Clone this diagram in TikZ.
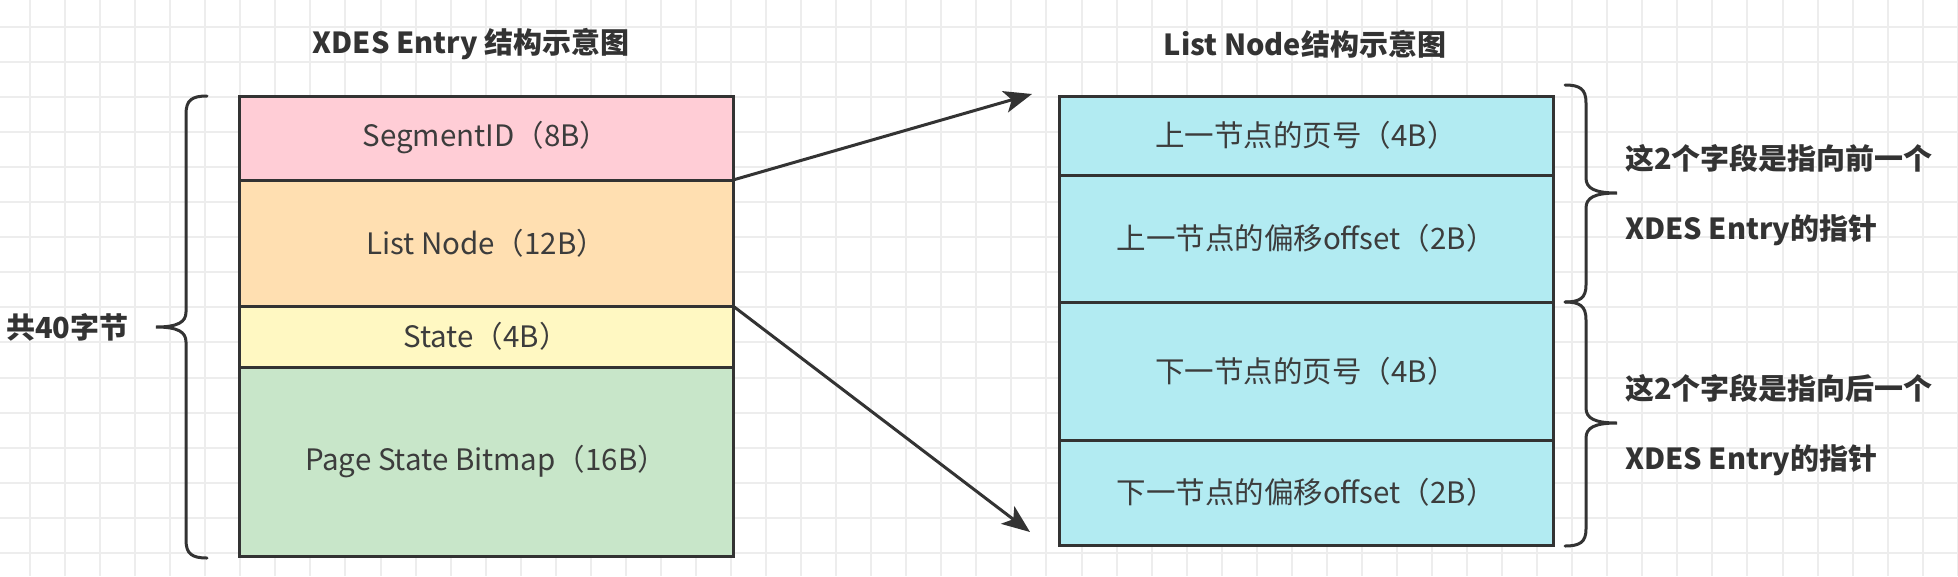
\documentclass[tikz,border=0pt]{standalone}
\usepackage{fontspec}
\setmainfont{Noto Sans CJK SC}
\usetikzlibrary{arrows.meta}
\definecolor{gridc}{HTML}{EDEDED}
\definecolor{linec}{HTML}{333333}
\definecolor{textc}{HTML}{3C3C3C}
\definecolor{segc}{HTML}{FFCDD6}
\definecolor{listc}{HTML}{FFDFB1}
\definecolor{statec}{HTML}{FFF8C2}
\definecolor{bitc}{HTML}{C8E6C9}
\definecolor{cyanc}{HTML}{B2EBF2}
\begin{document}
\begin{tikzpicture}[x=1pt,y=-1pt,
  cell/.style={draw=linec, line width=3pt, minimum width=494pt, outer sep=0pt, inner sep=0pt,
    text=textc, font=\fontsize{29.5}{34}\selectfont},
  lbl/.style={text=linec, font=\fontsize{29}{34}\selectfont\bfseries, inner sep=0pt},
  arr/.style={draw=linec, line width=3pt, -{Stealth[length=28pt,width=22pt,inset=7pt]}},
  bracec/.style={draw=linec, line width=3pt, line cap=round}]
\useasboundingbox (0,0) rectangle (1958,576);
\fill[white] (0,0) rectangle (1958,576);
\foreach \i in {0,...,55} \draw[gridc, line width=2pt] ({30+35.05*\i},0) -- ({30+35.05*\i},576);
\foreach \j in {0,...,15} \draw[gridc, line width=2pt] (0,{27+35.05*\j}) -- (1958,{27+35.05*\j});

% titles
\node[lbl] (t1) at (471,44) {XDES Entry 结构示意图};
\node[lbl] (t2) at (1305,44) {List Node结构示意图};

% left structure
\node[cell, fill=segc, minimum height=84pt] (seg) at (486,138) {SegmentID（8B）};
\node[cell, fill=listc, minimum height=126pt] (list) at (486,243) {List Node（12B）};
\node[cell, fill=statec, minimum height=61pt] (state) at (486,336.5) {State（4B）};
\node[cell, fill=bitc, minimum height=189pt] (bit) at (486,461.5) {Page State Bitmap（16B）};

% right structure
\node[cell, fill=cyanc, minimum height=79pt] (p1) at (1306,135.5) {上一节点的页号（4B）};
\node[cell, fill=cyanc, minimum height=127pt] (p2) at (1306,238.5) {上一节点的偏移offset（2B）};
\node[cell, fill=cyanc, minimum height=138pt] (n1) at (1306,371) {下一节点的页号（4B）};
\node[cell, fill=cyanc, minimum height=105pt] (n2) at (1306,492.5) {下一节点的偏移offset（2B）};

% arrows
\coordinate (e1) at (1032,94);
\coordinate (e2) at (1030,532);
\draw[arr] (seg.south east) -- (e1);
\draw[arr] (state.north east) -- (e2);

% left brace
\draw[bracec] (207,96) .. controls (192,96) and (186,100) .. (186,114) -- (186,312)
  .. controls (186,322) and (178,327) .. (156,327)
  .. controls (178,327) and (186,332) .. (186,342) -- (186,540)
  .. controls (186,554) and (192,558) .. (207,558);
\node[lbl, anchor=west] (total) at (6,327) {共40字节};

% right braces
\draw[bracec] (1565,85) .. controls (1580,85) and (1586,89) .. (1586,103) -- (1586,178)
  .. controls (1586,188) and (1594,193) .. (1617,193)
  .. controls (1594,193) and (1586,198) .. (1586,208) -- (1586,285)
  .. controls (1586,298) and (1580,302) .. (1565,302);
\draw[bracec] (1565,302) .. controls (1580,302) and (1586,306) .. (1586,320) -- (1586,408)
  .. controls (1586,418) and (1594,423) .. (1617,423)
  .. controls (1594,423) and (1586,428) .. (1586,438) -- (1586,529)
  .. controls (1586,542) and (1580,546) .. (1565,546);

\node[lbl, anchor=west] (s1) at (1625,158) {这2个字段是指向前一个};
\node[lbl, anchor=west] (s2) at (1625,230) {XDES Entry的指针};
\node[lbl, anchor=west] (s3) at (1625,388) {这2个字段是指向后一个};
\node[lbl, anchor=west] (s4) at (1625,460) {XDES Entry的指针};
\end{tikzpicture}
\end{document}
